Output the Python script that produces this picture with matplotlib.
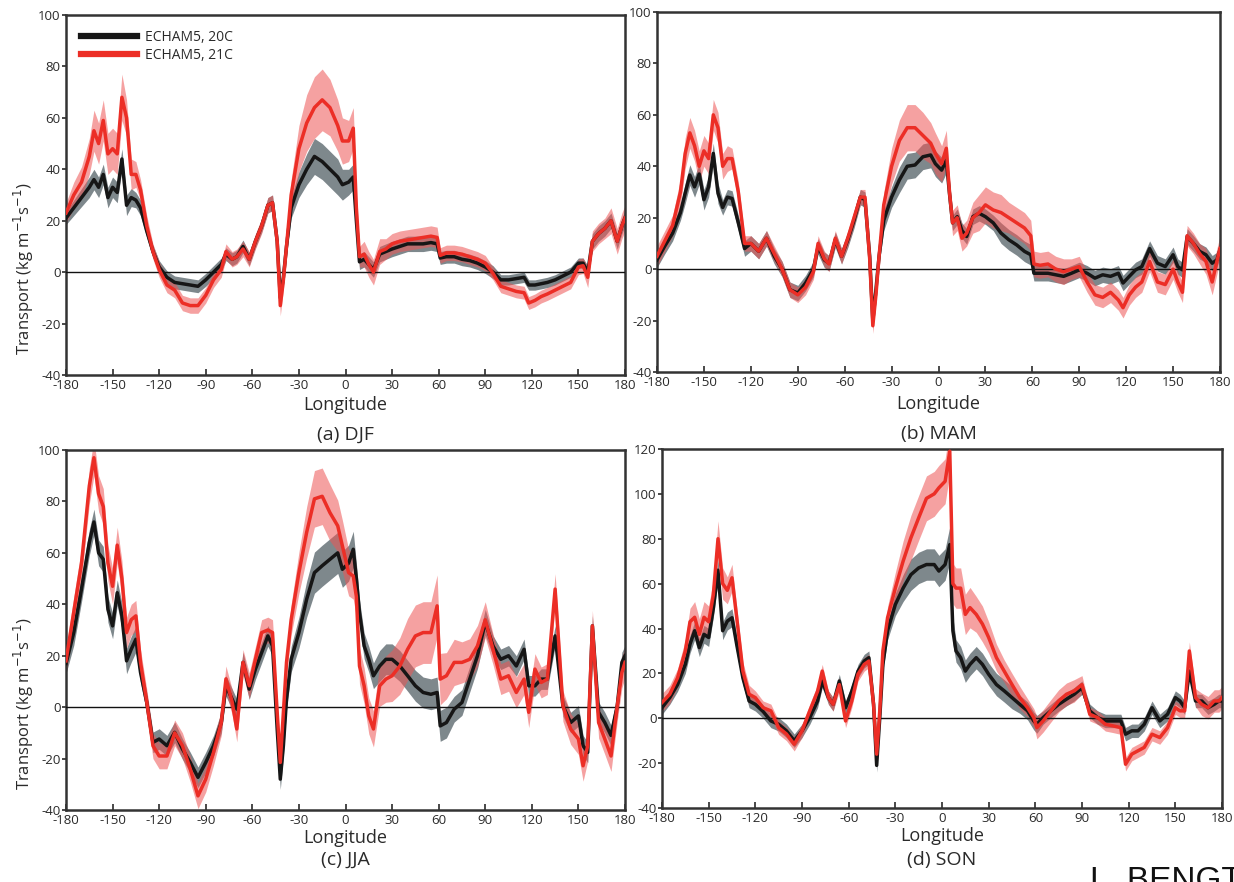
import matplotlib
matplotlib.use("Agg")
import matplotlib.pyplot as plt
from matplotlib.lines import Line2D
import numpy as np

plt.rcParams['font.family'] = ['Open Sans', 'DejaVu Sans']

# ---------------- data ----------------
lon = [-180,-175,-170,-165,-162,-159,-156,-153,-150,-147,
       -144,-141,-138,-135,-132,-128,-124,-120,-115,-110,
       -105,-100,-95,-90,-85,-80,-77,-73,-70,-66,
       -62,-58,-54,-50,-47,-44,-42,-40,-38,-35,
       -30,-25,-20,-15,-10,-5,-2,2,5,7,
       9,12,15,18,22,26,30,35,40,45,
       50,55,59,61,65,70,75,80,85,90,
       95,100,105,110,115,118,122,126,130,135,
       140,145,150,153,156,159,163,167,171,175,
       178,180]

djf_20c = [21,25,29,33,36,33,38,29,33,31,
           44,26,29,28,25,16,8,2,-2,-4,
           -4.5,-5,-5.5,-3,0,3,7,5,6,10,
           5,12,18,26,27,12,-10,-2,10,25,
           34,40,45,43,40,37,34,35,37,20,
           4,5,3,1,7,8,9,10,11,11,
           11,11.5,11,5.5,6,6,5,4.5,3.5,2,
           0,-3,-3,-2.5,-2,-5,-5,-4.5,-4,-3,
           -1.5,0,3.5,3.5,0,12,15,17,20,12,
           18,21]
djf_21c = [23,30,35,45,55,50,59,46,48,46,
           68,60,38,38,32,18,8,1,-5,-7,
           -12,-13,-13,-9,-3,1,8,5,6,9,
           5,12,18,26,27,12,-13,-3,10,30,
           48,58,64,67,64,57,51,51,56,25,
           6,7,3,0,8,9,11,12,12.5,13,
           13.5,14,13.5,6.5,7.5,7.5,7,6,5,3.5,
           -0.5,-5.5,-6.5,-7.5,-8,-12,-11,-9.5,-8.5,-7,
           -5.5,-4,2,2.5,-2,12,15,17,20,12,
           18,21]
djf_20c_sd = [2.5,3,3.5,4,4,4,4,4,4,4,
              4,4,3.5,3,3,2.5,2.5,2.5,2.5,2.5,
              2.5,2.5,2.5,2.5,2.5,2.5,2.5,2.5,2.5,2.5,
              2.5,2.5,2.5,3,3,3,3,3,3,4,
              5,6,7,7,7,7,6,5,5,4,
              3,3,3,3,3,3,3,3,3,3,
              3,3,3,2.5,2.5,2.5,2.5,2.5,2.5,2.5,
              2.5,2,2,2,2,2,2,2,2,2,
              2,2,2,2,2.5,3,3,3,3,3,
              3,3]
djf_21c_sd = [4,5,6,7,8,8,8,8,8,8,
              9,7,6,5,4,4,3,3,3,3,
              3,3,3,3,3,3,3,3,3,3,
              3,3,3,3,3,3,4,4,4,6,
              9,11,12,12,11,10,9,8,8,6,
              4,5,5,5,5,4,4,4,4,4,
              4,4,4,3,3,3,3,3,3,3,
              2.5,2.5,2.5,2.5,2.5,2.5,2.5,2.5,2.5,2.5,
              2.5,2.5,3,3,4,4,4,4,5,5,
              5,5]

mam_20c = [3.6,9,14,22,29.5,36.6,32,37,27,32,
           45,29.5,24,28,27.5,18,8,10,7,12,
           5,0,-8,-9.3,-5.4,0,8.8,3.6,2.3,11.4,
           5,11.4,19,28,27,5,-20,-8,5,19,
           28,34.7,40,40.5,43.7,44.4,41,38.5,42.4,29.5,
           18,20.4,15,12.7,20.4,21.7,20.4,18,14,11.4,
           9.4,6.9,5.6,-1.6,-1.6,-1.6,-2.2,-2.8,-1.6,-0.3,
           -1.6,-3.5,-2.2,-2.8,-1.6,-5.4,-2.8,-0.3,1,8,
           2.3,1,5.6,1,-0.3,12.7,10,6.9,5.6,2.3,
           3.6,7.5]
mam_21c = [5,11,17,30,45,53,48,40,46,43,
           60,55,40,43,43,30,10,10,7,12,
           6,0,-8,-10,-7,-1,10,4,2,12,
           5,12,20,28,28,4,-22,-10,5,25,
           40,50,55,55,52,49,45,41,47,30,
           18,20,12,14,20,22,25,23,22,20,
           18,16,13,2,1.5,2,0,-1,0,1,
           -5,-10,-11,-9,-12,-15,-10,-7,-5,3,
           -5,-6,0,-5,-9,13,10,6,3,-5,
           3,8]
mam_20c_sd = [3,3,3,3,4,4,4,4,4,4,
              4,4,3,3,3,3,3,3,3,3,
              3,3,3,3,3,3,3,3,3,3,
              3,3,3,3,3,3,3,3,3,4,
              4,5,5,5,5,5,5,5,5,4,
              3,3,3,3,3,3,3,3,4,4,
              4,4,4,3,3,3,3,3,3,3,
              3,3,3,3,3,3,3,3,3,3,
              3,3,3,3,3,3,3,3,3,3,
              3,3]
mam_21c_sd = [4,4,4,5,6,6,6,6,6,6,
              6,6,5,5,4,4,3,3,3,3,
              3,3,3,3,3,3,3,3,3,3,
              3,3,3,3,3,3,3,3,3,5,
              7,8,9,9,9,8,8,7,7,6,
              5,5,5,5,6,7,7,7,7,6,
              6,6,6,5,5,5,5,5,4,4,
              4,4,4,4,4,4,4,4,4,4,
              4,4,4,4,4,4,4,4,5,5,
              5,5]

jja_20c = [17,29,46,64,72,60,57.5,38,31.6,44.5,
           35.5,18,22.5,26.4,13.5,1.8,-13.7,-12.4,-15,-9.8,
           -16.3,-21.5,-27.3,-21.5,-15,-6,8.3,3.1,-0.8,17.4,
           7,14.8,21.2,27.7,23.8,-8.5,-28,-15,3,18.6,
           29,42,52.3,55,57.5,60,53.6,56,61.4,50,
           36.8,23.8,18.6,12.2,16,18.6,18.6,16,12.2,8.3,
           5.7,5,5.7,-7.3,-6,-0.8,1.8,10.9,20,33,
           23.8,18.6,20,16,22.5,8.3,8.3,10.9,10.9,27.7,
           0.5,-6,-3.4,-15,-17.6,31.6,-2,-6,-11,0.5,
           17.4,20]
jja_21c = [18,37,56,86,97,83,78,56,47,63,
           50,29,34,35.5,17.4,2,-15,-19,-19,-10,
           -15,-24,-34.5,-28,-17.6,-6,11,2,-8.5,17.4,
           8.3,18.6,29,30,29,-2,-21.5,-2,17.4,34,
           52.3,68,81,82,75.6,70.5,62.7,52.3,51,43,
           16,8.3,-3.4,-8.5,8.3,10.9,12.2,16,22.5,27.7,
           29,29,39.4,10.9,12.2,17.4,17.4,18.6,23.8,34,
           22.5,10.9,12.2,5.7,10.9,-2,14.8,9.6,10.9,45.9,
           0.5,-8.5,-12.4,-22.8,-15,31.6,-6,-12.4,-19,0.5,
           13.5,17.4]
jja_20c_sd = [4,5,5,5,5,5,5,5,5,5,
              5,5,5,5,4,4,4,4,4,4,
              4,4,4,4,4,4,4,4,4,4,
              4,4,4,4,4,4,4,4,4,5,
              6,7,8,8,8,8,7,7,7,6,
              5,5,5,5,6,6,6,6,6,6,
              6,6,6,6,6,5,5,5,5,5,
              4,4,4,4,4,4,4,4,4,4,
              4,4,4,4,4,4,4,4,4,4,
              4,4]
jja_21c_sd = [5,6,6,7,7,7,7,7,7,7,
              7,6,6,6,5,5,5,5,5,5,
              5,5,5,5,5,5,5,5,5,5,
              5,5,5,5,5,5,5,5,5,6,
              8,10,11,11,11,10,10,9,9,8,
              7,7,7,7,8,9,10,11,12,12,
              12,12,12,10,9,9,8,8,8,7,
              6,6,6,6,6,6,6,6,6,6,
              6,6,6,6,6,6,6,6,6,6,
              6,6]

son_20c = [4.7,9.2,15,24,33,39,31.5,37.4,36,49,
           66,39,43.3,44.8,33,18,7.7,6.2,3,-1.2,
           -2.7,-5.6,-10,-5.6,0.3,7.7,16.6,9.2,6.2,16.6,
           4.7,12,21,25.5,27,6.2,-21,0.3,24,39,
           50.7,58,64,67,68.5,68.5,65.6,68.5,77.4,39,
           30,27,21,24,27,24,19.6,15,12.2,9.2,
           6.2,3.3,-1.2,-2.7,0.3,3.3,6.2,8.5,10.7,13.6,
           3.3,0.3,-1.2,-1.2,-1.2,-7.1,-5.6,-5.6,-2.7,4.7,
           -1.2,1.8,9.2,7.7,4.7,21,7.7,7.7,4.7,6.2,
           7.7,7.7]
son_21c = [7,10.7,18,30,43,45,37.4,45,43,55,
           80,60,57,62.6,45,21,10.7,9.2,4.7,3.3,
           -4.2,-7,-11.6,-5.6,3.3,12,21,9.2,6.2,15,
           -1.2,7.7,19.6,24,25.5,6.2,-16,3.3,30,44.8,
           58,70,80.4,89.3,98,100,102.7,105.6,119,60,
           58,58,46.3,49.3,46.3,42,36,27,21,15,
           9.2,4.7,0.3,-4.2,-1.2,3.3,7.7,10.7,12.2,15,
           1.8,0.3,-2.7,-3.4,-4.2,-20.5,-16,-14.5,-13,-7.1,
           -8.6,-4.2,4.7,3.3,3.3,30,9.2,6.2,4.7,7.7,
           7.7,9.2]
son_20c_sd = [3,3,3,4,4,4,4,4,4,4,
              5,4,4,4,4,3,3,3,3,3,
              3,3,3,3,3,3,3,3,3,3,
              3,3,3,3,3,3,3,3,3,4,
              5,6,7,7,7,7,7,7,8,6,
              5,5,5,5,5,5,5,5,5,5,
              4,4,4,4,3,3,3,3,3,3,
              3,3,3,3,3,3,3,3,3,3,
              3,3,3,3,3,3,3,3,3,3,
              3,3]
son_21c_sd = [4,4,4,5,6,7,7,7,7,7,
              8,7,6,6,5,4,4,3,3,3,
              3,3,3,3,3,3,3,3,3,3,
              3,3,3,3,3,3,3,3,3,5,
              7,9,10,10,10,10,10,10,10,9,
              9,9,9,9,8,8,7,6,5,5,
              5,4,4,5,5,5,5,5,5,4,
              3,3,3,3,3,3,3,3,3,3,
              3,3,3,3,3,4,4,5,5,5,
              5,5]

xticks = [-180, -150, -120, -90, -60, -30, 0, 30, 60, 90, 120, 150, 180]
titles = ['(a) DJF', '(b) MAM', '(c) JJA', '(d) SON']
legend_labels = ['ECHAM5, 20C', 'ECHAM5, 21C']
ylabel = 'Transport (kg m$^{-1}$s$^{-1}$)'

# ---------------- figure ----------------
W, H = 1234, 882
fig = plt.figure(figsize=(W / 100, H / 100), dpi=100)

def box(l, t, r, b):
    return [l / W, 1 - b / H, (r - l) / W, (b - t) / H]

# (position, 20C, 20C spread, 21C, 21C spread, ylim, ylabel?, longitude-label px below, title px below)
panels = [
    (box(66, 15, 625, 375), djf_20c, djf_20c_sd, djf_21c, djf_21c_sd, (-40, 100), True, 30, 60),
    (box(657, 12, 1220, 372), mam_20c, mam_20c_sd, mam_21c, mam_21c_sd, (-40, 100), False, 32, 62),
    (box(66, 450, 625, 810), jja_20c, jja_20c_sd, jja_21c, jja_21c_sd, (-40, 100), True, 28, 50),
    (box(662, 449, 1222, 808), son_20c, son_20c_sd, son_21c, son_21c_sd, (-40, 120), False, 28, 52),
]

BLACK = '#161616'
GRAY = '#5e6a70'
RED = '#ec2e26'
PINK = '#ee5555'
TXT = '#2a2a2a'

x = np.array(lon, dtype=float)
for i, (pos, b, bsd, r, rsd, ylim, has_ylabel, dlon, dtit) in enumerate(panels):
    ax = fig.add_axes(pos)
    ax.set_facecolor('none')
    hpx = pos[3] * H
    b = np.array(b, float); bsd = np.array(bsd, float)
    r = np.array(r, float); rsd = np.array(rsd, float)
    ax.fill_between(x, b - bsd, b + bsd, color=GRAY, alpha=0.8, lw=0, zorder=1)
    ax.fill_between(x, r - rsd, r + rsd, color=PINK, alpha=0.55, lw=0, zorder=2)
    ax.axhline(0, color='#111111', lw=1.0, zorder=3)
    ax.plot(x, b, color=BLACK, lw=2.5, zorder=4, solid_joinstyle='round')
    ax.plot(x, r, color=RED, lw=2.5, zorder=5, solid_joinstyle='round')
    ax.set_xlim(-180, 180)
    ax.set_ylim(*ylim)
    ax.set_xticks(xticks)
    ax.set_xticklabels([str(t) for t in xticks])
    yt = np.arange(ylim[0], ylim[1] + 1, 20)
    ax.set_yticks(yt)
    ax.set_yticklabels([str(int(t)) for t in yt])
    ax.tick_params(axis='x', direction='in', length=4, width=1.2, labelsize=9.5,
                   colors=TXT, pad=3)
    ax.tick_params(axis='y', direction='out', length=3, width=1.2, labelsize=9.5,
                   colors=TXT, pad=1)
    for s in ax.spines.values():
        s.set_linewidth(1.8)
        s.set_color('#333333')
    ax.text(0.5, -dlon / hpx, 'Longitude', transform=ax.transAxes, ha='center',
            va='center', fontsize=13, color=TXT)
    ax.text(0.5, -dtit / hpx, titles[i], transform=ax.transAxes, ha='center',
            va='center', fontsize=14, color=TXT)
    if has_ylabel:
        ax.set_ylabel(ylabel, fontsize=12, color=TXT)
        ax.yaxis.set_label_coords(-0.054, 0.295)
    if i == 0:
        handles = [Line2D([], [], color=BLACK, lw=4.5), Line2D([], [], color=RED, lw=4.5)]
        ax.legend(handles, legend_labels, loc='upper left', frameon=False,
                  fontsize=10, handlelength=4.0, handletextpad=0.6,
                  borderaxespad=0.5, borderpad=0.6, labelspacing=0.2,
                  labelcolor=TXT)

fig.text(1090 / W, 1 - 866 / H, 'L. BENGTSSON ET AL.', fontsize=24,
         family=['Liberation Sans', 'DejaVu Sans'], color='#111111', va='top', ha='left')

fig.savefig('out.png', dpi=100)
